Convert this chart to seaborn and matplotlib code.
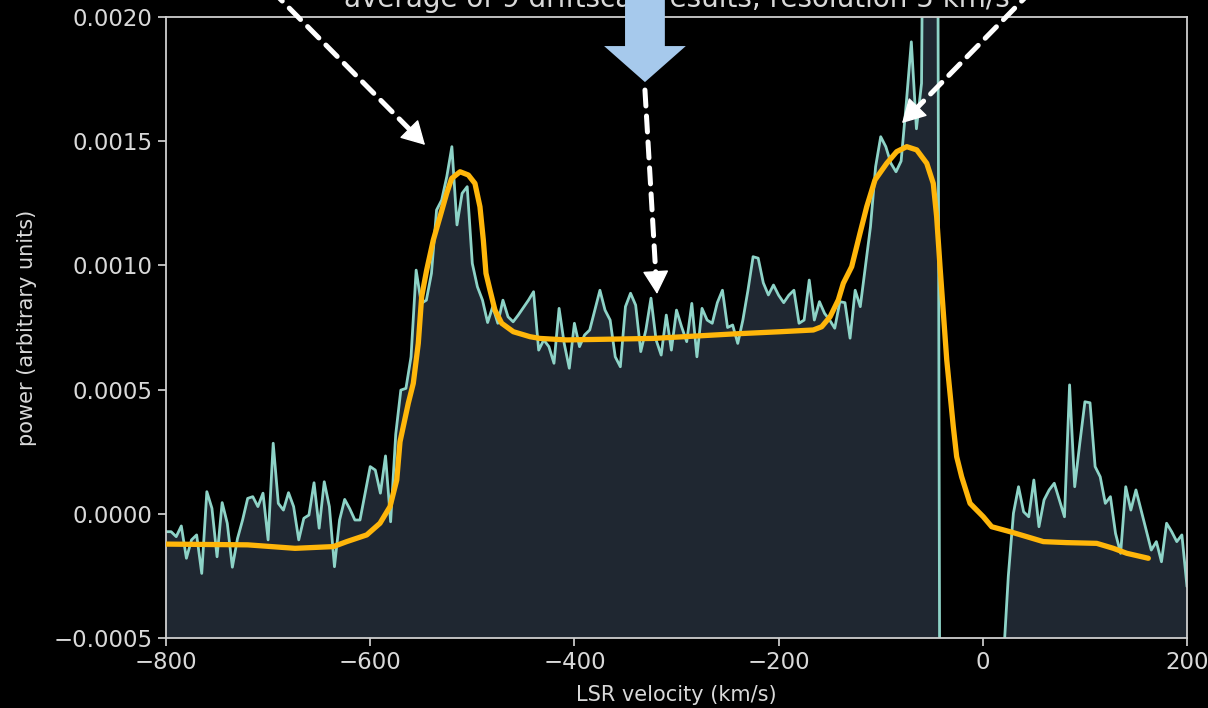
import numpy as np
import pandas as pd
import matplotlib
matplotlib.use("Agg")
import matplotlib.pyplot as plt
import seaborn as sns
from matplotlib.patches import FancyArrow
from matplotlib.ticker import FuncFormatter

# ---------------- data ----------------
# LSR velocity grid of the averaged spectrum (5 km/s resolution)
velocity = np.arange(-800, 201, 5)

# measured power, in units of 1e-4 (arbitrary units)
power_e4 = [
    -0.72, -0.72, -0.92, -0.49, -1.79, -1.05, -0.85, -2.4, 0.89, 0.22,
    -1.73, 0.45, -0.38, -2.15, -1.0, -0.25, 0.62, 0.69, 0.29, 0.83,
    -1.05, 2.84, 0.42, 0.15, 0.85, 0.29, -1.05, -0.18, -0.05, 1.25,
    -0.58, 1.29, 0.29, -2.13, -0.25, 0.58, 0.2, -0.25, -0.25, 0.83,
    1.9, 1.76, 0.83, 2.33, -0.32,
    3.2, 4.98, 5.05, 6.32, 9.81, 8.47, 8.6, 9.68, 12.23, 12.63,
    13.57, 14.78, 11.63, 12.9, 13.17, 10.08, 9.14, 8.6, 7.7, 8.34,
    7.67, 8.6, 7.93, 7.73, 8.0, 8.3, 8.6, 8.94, 6.59,
    7.0, 6.73, 6.06, 8.27, 6.86, 5.86, 7.67, 6.73, 7.2, 7.4,
    8.2, 9.0, 8.2, 7.8, 6.32, 5.92, 8.34, 8.88, 8.4, 6.53,
    7.4, 8.68, 7.0, 6.39, 8.0, 6.59, 8.2, 7.53, 6.93, 8.47,
    6.32, 8.27, 7.8, 7.67, 8.5, 9.0, 7.5, 7.6, 6.86, 7.8,
    9.0, 10.35, 10.29, 9.3, 8.81, 9.21, 8.8, 8.5, 8.8, 9.0,
    7.67,
    7.8, 9.41, 7.8, 8.54, 8.07, 7.8, 7.47, 8.54, 8.5, 7.07,
    9.0, 8.34, 9.95, 11.56, 13.97, 15.18, 14.78, 14.11, 13.77, 14.2,
    16.5, 19.0, 15.5, 17.33, 45.0, 60.0, 40.0,
    -45.0, -50.0, -55.0, -55.0, -50.0, -50.0, -45.0, -45.0, -40.0, -40.0,
    -40.0, -40.0, -6.0, -2.5,
    0.02, 1.09, 0.08, -0.12, 1.36, -0.52, 0.56, 0.96, 1.23, 0.56,
    -0.12, 5.19, 1.09, 2.84, 4.51, 4.47, 1.9, 1.49, 0.42, 0.69,
    -0.79, -1.59, 1.09, 0.15, 0.96, 0.15, -0.65, -1.46, -1.12, -1.93,
    -0.38, -0.72, -1.12, -0.85, -2.93,
]
power = np.array(power_e4) * 1e-4

# hand-drawn smooth model curve (orange)
model_velocity = [
    -800, -720, -673.6, -636.1, -623.0, -603.4, -590.4, -580.6, -574.0, -570.8,
    -562.7, -557.8, -552.9, -549.6, -544.7, -538.2, -531.6, -525.1, -520.2, -512.0,
    -503.9, -497.4, -492.5, -489.2, -486.6, -482.7, -477.8, -471.2, -459.8, -443.5,
    -433.7, -407.5, -323.0, -244.7, -198.6, -166.0, -157.8, -149.6, -141.5, -136.6,
    -128.4, -120.3, -113.7, -105.6, -94.1, -84.3, -74.5, -64.7, -54.9, -48.5,
    -45.2, -41.9, -35.3, -28.9, -25.6, -20.7, -12.5, 0.5, 8.7, 26.6,
    43.0, 59.3, 82.2, 111.6, 127.9, 141.0, 162.1,
]
model_power_e4 = [
    -1.22, -1.25, -1.39, -1.32, -1.12, -0.85, -0.38, 0.29, 1.36, 2.9,
    4.45, 5.25, 6.86, 8.74, 9.81, 11.02, 11.96, 12.9, 13.5, 13.77,
    13.64, 13.3, 12.36, 11.02, 9.68, 9.01, 8.2, 7.67, 7.33, 7.13,
    7.06, 7.0, 7.06, 7.24, 7.33, 7.4, 7.53, 7.93, 8.61, 9.28,
    9.95, 11.29, 12.36, 13.44, 14.11, 14.58, 14.78, 14.65, 14.11, 13.3,
    11.96, 9.95, 6.19, 3.51, 2.3, 1.49, 0.42, -0.12, -0.52, -0.72,
    -0.92, -1.12, -1.16, -1.19, -1.39, -1.59, -1.79,
]
model_power = np.array(model_power_e4) * 1e-4

x_ticks = [-800, -600, -400, -200, 0, 200]
y_ticks = [-0.0005, 0.0, 0.0005, 0.0010, 0.0015, 0.0020]

title = "average of 9 driftscan results, resolution 5 km/s"
x_label = "LSR velocity (km/s)"
y_label = "power (arbitrary units)"

# ---------------- style ----------------
sns.set_theme(style="dark")
plt.rcParams["font.family"] = ["DejaVu Sans"]
plt.rcParams["axes.unicode_minus"] = True

TXT = "#d9d9d9"
LINE = "#8dd3c7"
FILL = "#1f2731"
ORANGE = "#ffb60a"

fig = plt.figure(figsize=(12.08, 7.08), dpi=100, facecolor="black")
ax = fig.add_axes([166 / 1208, 70 / 708, 1021 / 1208, 621 / 708])
ax.set_facecolor("none")

df = pd.DataFrame({"velocity": velocity, "power": power})
model_df = pd.DataFrame({"velocity": model_velocity, "power": model_power})

ax.fill_between(df["velocity"], df["power"], y_ticks[0], color=FILL, lw=0, zorder=1)
sns.lineplot(data=df, x="velocity", y="power", color=LINE, lw=2.0,
             estimator=None, ax=ax, zorder=2)
sns.lineplot(data=model_df, x="velocity", y="power", color=ORANGE, lw=3.8,
             estimator=None, sort=False, ax=ax, zorder=3,
             solid_capstyle="round", solid_joinstyle="round")

ax.set_xlim(-800, 200)
ax.set_ylim(-0.0005, 0.0020)
ax.set_xticks(x_ticks)
ax.set_yticks(y_ticks)
ax.xaxis.set_major_formatter(FuncFormatter(lambda v, p: f"{v:.0f}".replace("-", "\u2212")))
ax.yaxis.set_major_formatter(FuncFormatter(lambda v, p: f"{v:.4f}".replace("-", "\u2212")))
ax.tick_params(colors=TXT, labelcolor=TXT, labelsize=16.5, length=6, width=1.2,
               direction="out", bottom=True, left=True)
for s in ax.spines.values():
    s.set_color("#cfcfcf")
    s.set_linewidth(1.3)
ax.grid(False)

ax.set_title(title, color=TXT, fontsize=20, pad=7)
ax.set_xlabel(x_label, color=TXT, fontsize=15, labelpad=8)
ax.set_ylabel(y_label, color=TXT, fontsize=15, labelpad=12)

# ---------------- annotations ----------------
HEAD_PX = 20.0


def dashed_arrow(tail, tip):
    """White dashed shaft with a solid filled head."""
    ax.annotate("", xy=tip, xytext=tail, annotation_clip=False, zorder=6,
                arrowprops=dict(arrowstyle="-", color="white", lw=3.6,
                                linestyle=(0, (3.2, 2.0)), shrinkA=0,
                                shrinkB=HEAD_PX * 0.6))
    p_tail = ax.transData.transform(tail)
    p_tip = ax.transData.transform(tip)
    d = (p_tip - p_tail) / np.linalg.norm(p_tip - p_tail)
    back = ax.transData.inverted().transform(p_tip - d * HEAD_PX)
    ax.annotate("", xy=tip, xytext=tuple(back), annotation_clip=False, zorder=6,
                arrowprops=dict(arrowstyle="-|>,head_length=0.75,head_width=0.42",
                                color="white", lw=1.0, shrinkA=0, shrinkB=0,
                                mutation_scale=20))


dashed_arrow((-697.2, 0.00211), (-546.3, 0.001485))   # left horn
dashed_arrow((49.0, 0.00211), (-79.1, 0.001573))      # right horn
dashed_arrow((-330.9, 0.001706), (-319.1, 0.000885))  # plateau

# big light-blue arrow
blue = FancyArrow(-330.9, 0.00215, 0, 0.001738 - 0.00215, width=39.0,
                  head_width=80.0, head_length=0.001883 - 0.001738,
                  length_includes_head=True, color="#a6c9ec", lw=0,
                  clip_on=False, zorder=7)
ax.add_patch(blue)

fig.savefig("out.png", dpi=100, facecolor="black")
